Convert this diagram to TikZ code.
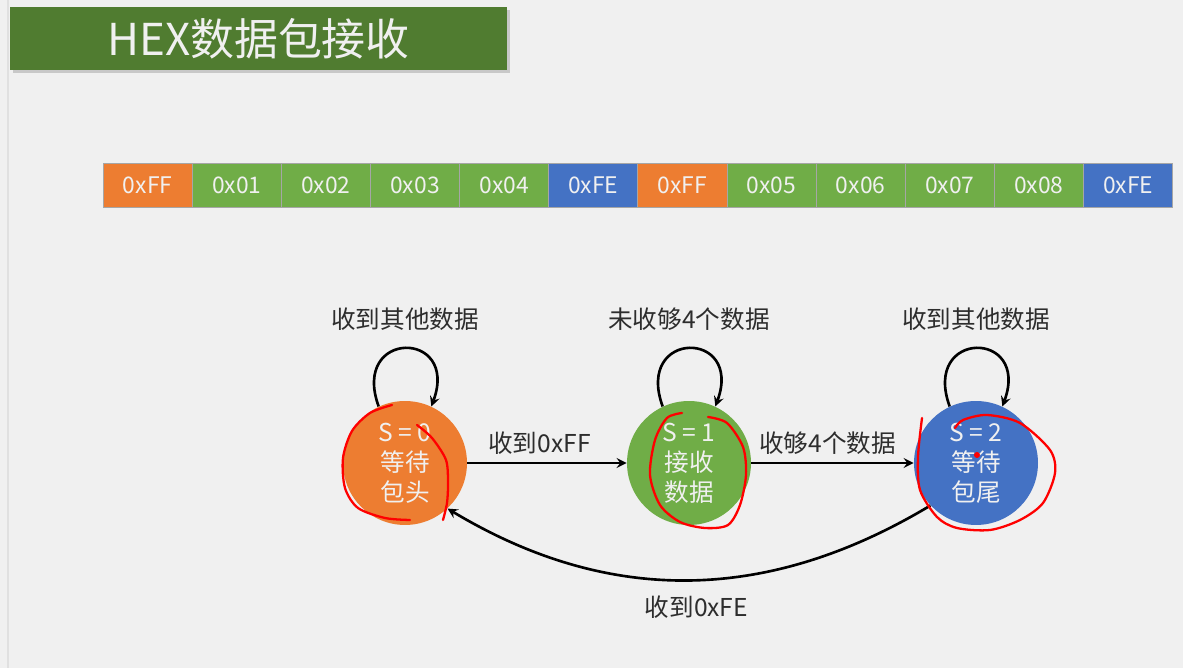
\documentclass[tikz,border=0pt]{standalone}
\usepackage{fontspec}
\newfontfamily\cjkfont{Noto Sans CJK SC}
\usepackage{tikz}
\usetikzlibrary{positioning,arrows,shadows}
\definecolor{bggray}{RGB}{240,240,240}
\definecolor{titlegreen}{RGB}{80,124,48}
\definecolor{hexorange}{RGB}{237,125,49}
\definecolor{hexgreen}{RGB}{112,173,71}
\definecolor{hexblue}{RGB}{68,114,196}
\definecolor{labelgray}{RGB}{45,45,45}
\tikzstyle{titlebar}  = [fill=titlegreen, minimum width=9.94cm, minimum height=1.26cm, inner sep=0pt, text=white!94!black, font=\cjkfont\fontsize{25}{30}\selectfont, drop shadow={opacity=.35, shadow xshift=0.06cm, shadow yshift=-0.06cm}]
\tikzstyle{bytebox}   = [draw=black!35, line width=0.5pt, minimum width=1.783cm, minimum height=0.88cm, inner sep=0pt, outer sep=0pt, text=white!94!black, font=\cjkfont\fontsize{13}{15}\selectfont]
\tikzstyle{headbyte}  = [bytebox, fill=hexorange]
\tikzstyle{databyte}  = [bytebox, fill=hexgreen]
\tikzstyle{tailbyte}  = [bytebox, fill=hexblue]
\tikzstyle{state}     = [circle, minimum size=2.48cm, inner sep=0pt, align=center, text=white!94!black, font=\cjkfont\fontsize{14}{17}\selectfont]
\tikzstyle{translabel} = [text=labelgray, font=\cjkfont\fontsize{14}{17}\selectfont]
\tikzstyle{trans}     = [line width=1.5pt, ->, >=stealth]
\tikzstyle{scribble}  = [red, line width=1.3pt, line cap=round, line join=round]

\begin{document}
\begin{tikzpicture}[x=0.02cm, y=0.02cm]
	% background
	\fill[bggray] (0,0) rectangle (1183,668);
	\useasboundingbox (0,0) rectangle (1183,668);
	\draw[black!12, line width=1pt] (8,0) -- (8,668);

	% title
	\node[titlebar] (title) at (258.5,629.5) {HEX数据包接收};

	% byte stream
	\node[headbyte] (b1) at (147.6,483) {0xFF};
	\node[databyte, right=0pt of b1] (b2) {0x01};
	\node[databyte, right=0pt of b2] (b3) {0x02};
	\node[databyte, right=0pt of b3] (b4) {0x03};
	\node[databyte, right=0pt of b4] (b5) {0x04};
	\node[tailbyte, right=0pt of b5] (b6) {0xFE};
	\node[headbyte, right=0pt of b6] (b7) {0xFF};
	\node[databyte, right=0pt of b7] (b8) {0x05};
	\node[databyte, right=0pt of b8] (b9) {0x06};
	\node[databyte, right=0pt of b9] (b10) {0x07};
	\node[databyte, right=0pt of b10] (b11) {0x08};
	\node[tailbyte, right=0pt of b11] (b12) {0xFE};

	% states
	\node[state, fill=hexorange] (s0) at (405,205) {S = 0\\等待\\包头};
	\node[state, fill=hexgreen] (s1) at (689,205) {S = 1\\接收\\数据};
	\node[state, fill=hexblue] (s2) at (976,205) {S = 2\\等待\\包尾};

	% transitions
	\draw[trans] (s0.115) to[out=110, in=70, looseness=4] node[translabel, above=6pt] {收到其他数据} (s0.65);
	\draw[trans] (s1.115) to[out=110, in=70, looseness=4] node[translabel, above=6pt] {未收够4个数据} (s1.65);
	\draw[trans] (s2.115) to[out=110, in=70, looseness=4] node[translabel, above=6pt] {收到其他数据} (s2.65);
	\draw[trans] (s0) -- node[translabel, above=1pt, xshift=-0.15cm] {收到0xFF} (s1);
	\draw[trans] (s1) -- node[translabel, above=1pt, xshift=-0.1cm] {收够4个数据} (s2);
	\draw[trans] (s2.223) to[out=211, in=-31] node[translabel, below=5pt, xshift=0.15cm] {收到0xFE} (s0.-47);

	% red marks
	\draw[scribble] plot[smooth] coordinates {(392,263) (370,255) (352,237) (343,210) (345,180) (358,160) (385,150) (410,148)};
	\draw[scribble] plot[smooth] coordinates {(417,243) (432,230) (446,208) (448,185) (447,165) (443,148)};
	\draw[scribble] plot[smooth] coordinates {(682,255) (667,250) (655,228) (650,193) (660,163) (680,146) (705,140) (728,143) (740,163) (746,193) (743,221) (727,245) (708,251)};
	\draw[scribble] plot[smooth] coordinates {(922,250) (918,211) (920,178) (937,151) (957,140) (990,138) (1020,148) (1043,165) (1055,195) (1050,218) (1020,245) (987,253) (963,248) (955,240)};
	\fill[red] (977,213) circle (3);
\end{tikzpicture}
\end{document}
